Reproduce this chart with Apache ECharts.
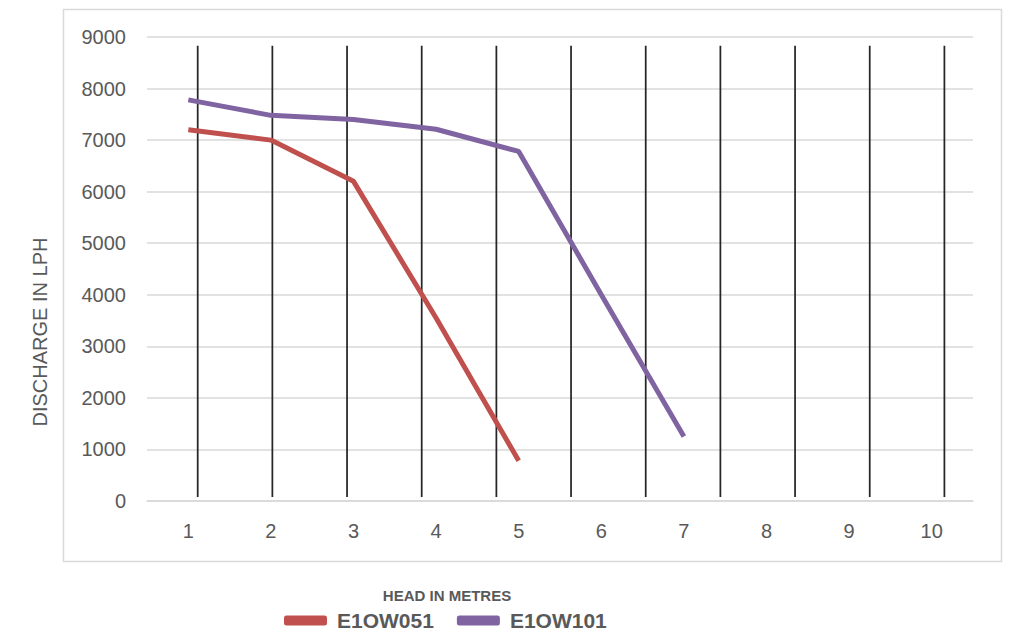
<!DOCTYPE html>
<html>
<head>
<meta charset="utf-8">
<script src="https://cdn.jsdelivr.net/npm/echarts@6/dist/echarts.min.js"></script>
<style>
html,body{margin:0;padding:0;background:#fff;}
#c{width:1013px;height:636px;}
</style>
</head>
<body>
<div id="c"></div>
<script>
// ---- data ----
const categories = ['1','2','3','4','5','6','7','8','9','10'];
const seriesNames = ['E1OW051','E1OW101'];
const e1ow051 = [7200, 7000, 6200, 3550, 780, null, null, null, null, null];
const e1ow101 = [7780, 7480, 7400, 7210, 6780, 4000, 1250, null, null, null];
const yTicks = [0, 1000, 2000, 3000, 4000, 5000, 6000, 7000, 8000, 9000];
// vertical dark lines (on a hidden secondary x scale)
const dropLineX = [1, 2, 3, 4, 5, 6, 7, 8, 9, 10, 11];
const dropLineTop = 8830;
const dropLineBottom = 80;
const xTitle = 'HEAD IN METRES';
const yTitle = 'DISCHARGE IN LPH';

const FONT = 'Liberation Sans, Arial, sans-serif';
const chart = echarts.init(document.getElementById('c'), null, {renderer: 'svg'});
chart.setOption({
  animation: false,
  backgroundColor: '#ffffff',
  grid: {left: 147, right: 40, top: 37, bottom: 135, containLabel: false},
  xAxis: [{
    type: 'category',
    data: categories,
    boundaryGap: true,
    axisLine: {show: true, lineStyle: {color: '#d9d9d9', width: 1.5}},
    axisTick: {show: false},
    axisLabel: {color: '#595959', fontSize: 20, fontFamily: FONT, margin: 20},
    splitLine: {show: false}
  }, {
    type: 'value',
    min: 0.321,
    max: 11.383,
    show: false
  }],
  yAxis: {
    type: 'value',
    min: yTicks[0],
    max: yTicks[yTicks.length - 1],
    interval: yTicks[1] - yTicks[0],
    axisLine: {show: false},
    axisTick: {show: false},
    axisLabel: {color: '#595959', fontSize: 20, fontFamily: FONT, margin: 21,
      formatter: function (v) { return String(v); }},
    splitLine: {show: true, lineStyle: {color: '#d9d9d9', width: 1.5}}
  },
  legend: {
    data: seriesNames,
    left: 279,
    top: 605,
    icon: 'roundRect',
    itemWidth: 43,
    itemHeight: 10,
    itemGap: 23,
    textStyle: {color: '#595959', fontSize: 21, fontWeight: 'bold', fontFamily: FONT, padding: [0, 0, 0, 5]}
  },
  graphic: [
    {type: 'rect', shape: {x: 63.5, y: 9.5, width: 938, height: 552}, style: {fill: 'none', stroke: '#d9d9d9', lineWidth: 1.5}, z: -10, silent: true},
    {type: 'text', x: 447, y: 595, style: {text: xTitle, fill: '#595959', font: 'bold 15px ' + FONT, textAlign: 'center', textVerticalAlign: 'middle'}},
    {type: 'text', x: 40, y: 332, rotation: Math.PI / 2, style: {text: yTitle, fill: '#595959', font: '20px ' + FONT, textAlign: 'center', textVerticalAlign: 'middle'}}
  ],
  series: [{
    type: 'custom',
    xAxisIndex: 1,
    yAxisIndex: 0,
    z: 1,
    silent: true,
    data: dropLineX.map(function (x) { return [x, dropLineTop, dropLineBottom]; }),
    renderItem: function (params, api) {
      const p1 = api.coord([api.value(0), api.value(1)]);
      const p2 = api.coord([api.value(0), api.value(2)]);
      return {type: 'line', shape: {x1: p1[0], y1: p1[1], x2: p2[0], y2: p2[1]}, style: {stroke: '#262626', lineWidth: 1.75}};
    }
  }, {
    name: seriesNames[0],
    type: 'line',
    data: e1ow051,
    z: 3,
    showSymbol: false,
    symbol: 'none',
    color: '#c0504d',
    lineStyle: {color: '#c0504d', width: 5}
  }, {
    name: seriesNames[1],
    type: 'line',
    data: e1ow101,
    z: 3,
    showSymbol: false,
    symbol: 'none',
    color: '#8064a2',
    lineStyle: {color: '#8064a2', width: 5}
  }]
});
</script>
</body>
</html>
